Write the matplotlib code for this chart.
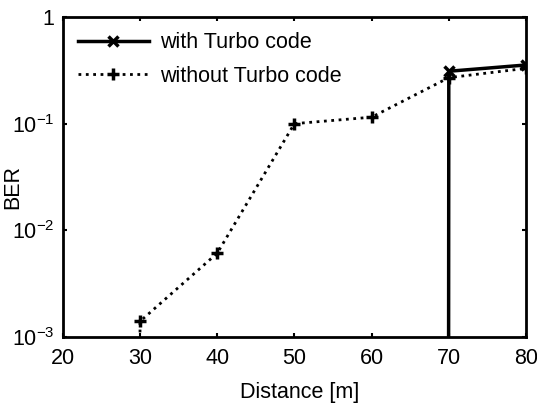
import numpy as np
import matplotlib.pyplot as plt
from matplotlib.ticker import FixedLocator, NullLocator

plt.rcParams['font.family'] = ['Liberation Sans', 'DejaVu Sans']
plt.rcParams['mathtext.fontset'] = 'custom'
plt.rcParams['mathtext.rm'] = 'Liberation Sans'

distance = [20, 30, 40, 50, 60, 70, 80]
# zero BER drops off the bottom of the log axis
ber_turbo = [0, 0, 0, 0, 0, 0.31, 0.355]
ber_plain = [0, 1.4e-3, 6.1e-3, 0.10, 0.115, 0.27, 0.33]

yticks = [1e-3, 1e-2, 1e-1, 1]
ylabels = [r"$\mathregular{10^{-3}}$", r"$\mathregular{10^{-2}}$",
           r"$\mathregular{10^{-1}}$", "1"]

fig = plt.figure(figsize=(5.37, 4.05), dpi=100)
ax = fig.add_axes([0.117, 0.168, 0.8625, 0.79])

ax.plot(distance, ber_turbo, 'k-', marker='x', ms=7, mew=2.5, lw=2.5,
        label="with Turbo code")
ax.plot(distance, ber_plain, 'k:', marker='+', ms=8, mew=2.5, lw=2,
        label="without Turbo code")

ax.set_yscale('log', nonpositive='clip')
ax.set_xlim(20, 80)
ax.set_ylim(1e-3, 1)
ax.set_xticks([20, 30, 40, 50, 60, 70, 80])
ax.yaxis.set_major_locator(FixedLocator(yticks))
ax.set_yticklabels(ylabels)
ax.yaxis.set_minor_locator(NullLocator())

ax.tick_params(direction='in', length=3, width=1.5, labelsize=15.5,
               top=True, right=True)
ax.tick_params(axis='x', pad=8)
ax.tick_params(axis='y', pad=6)
for s in ax.spines.values():
    s.set_linewidth(2)

ax.set_xlabel("Distance [m]", fontsize=15.5)
ax.xaxis.set_label_coords(0.512, -0.14)
ax.set_ylabel("BER", fontsize=15.5)
ax.yaxis.set_label_coords(-0.085, 0.47)
ax.legend(loc='upper left', frameon=False, fontsize=15.5, handlelength=3.3,
          borderaxespad=0.3, borderpad=0.4, handletextpad=0.5,
          labelspacing=0.6)

fig.savefig("out.png", dpi=100)
